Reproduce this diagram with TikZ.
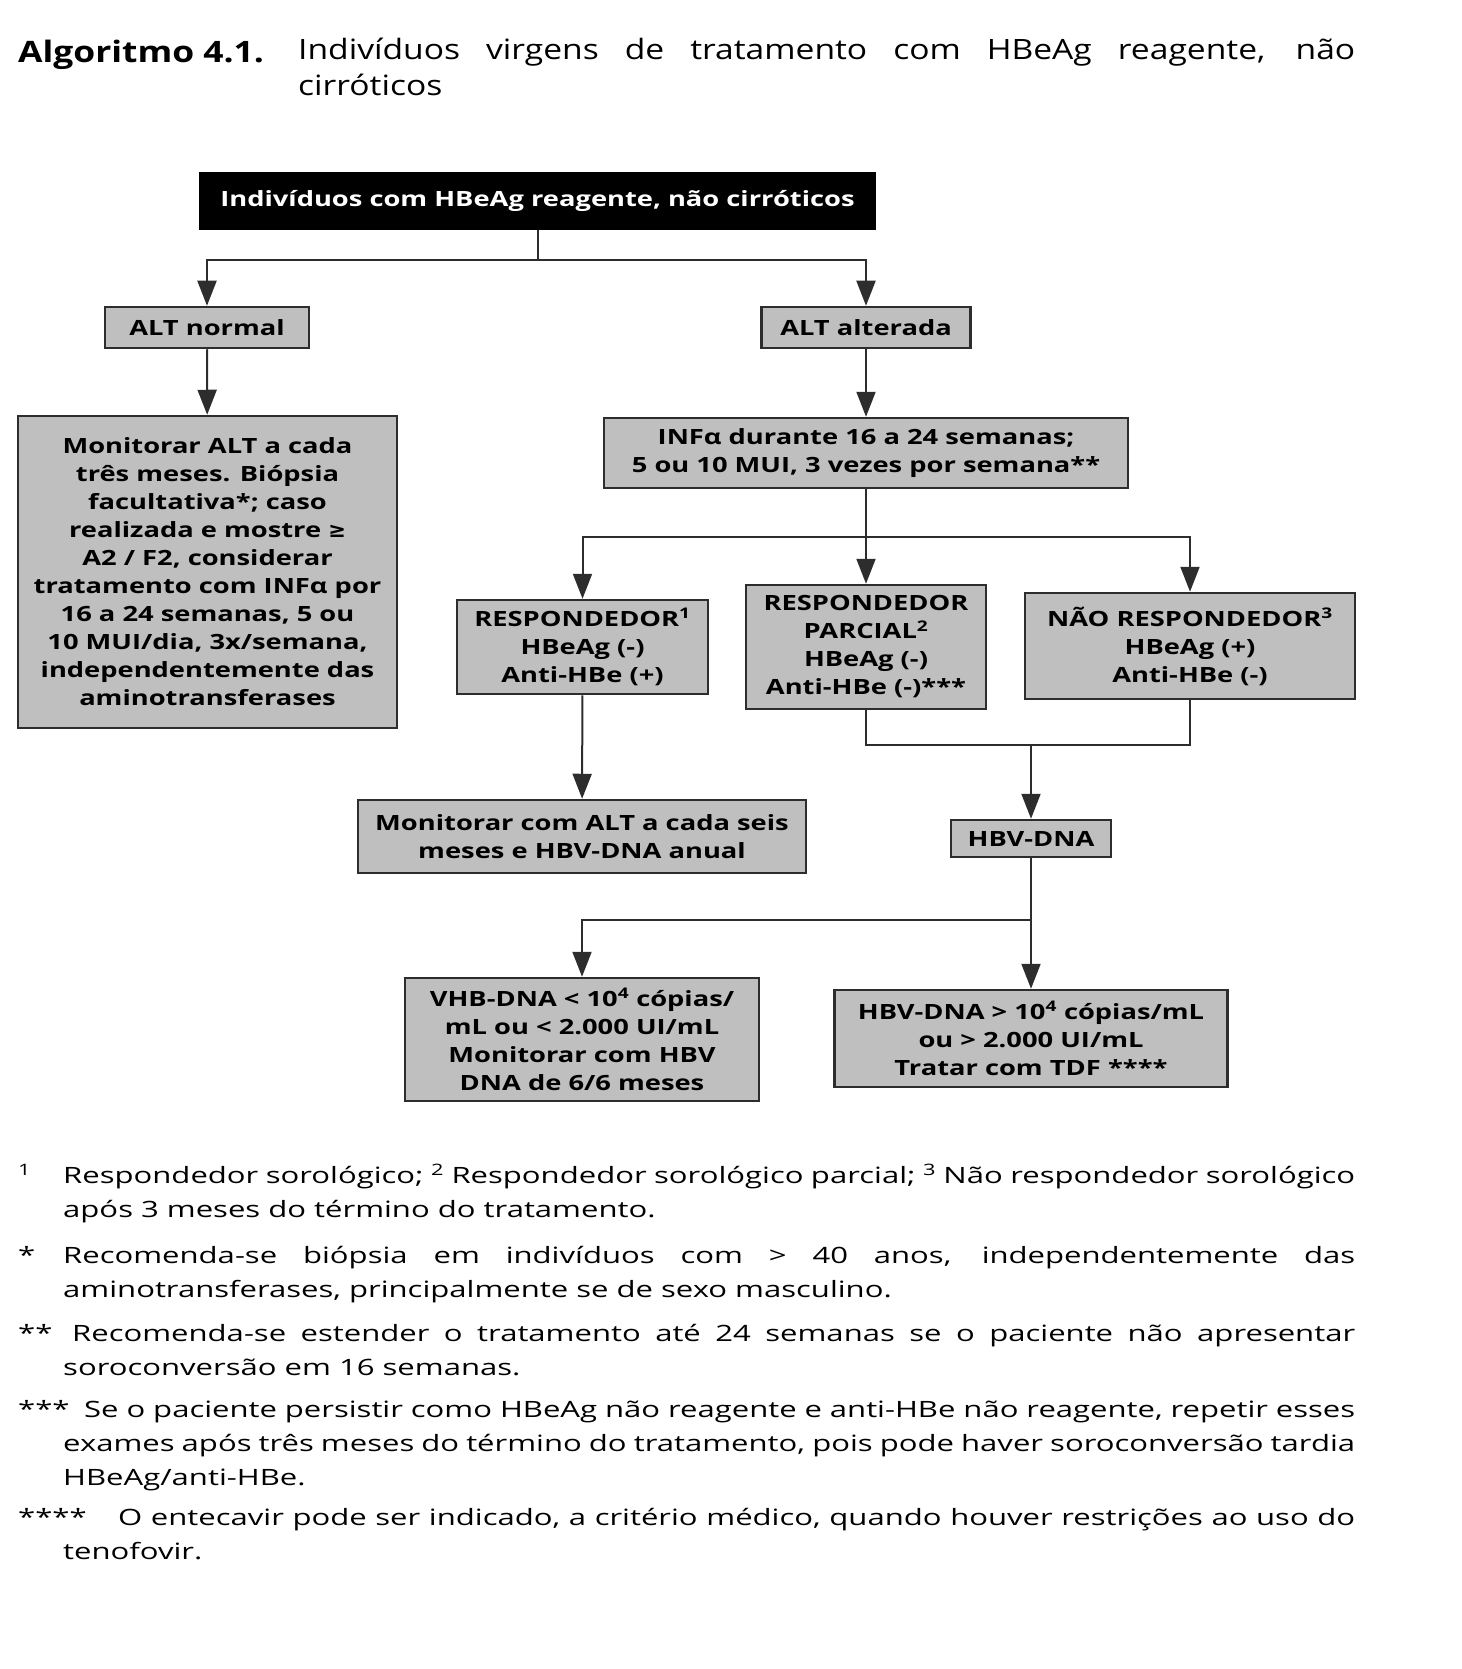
\documentclass[tikz,border=0pt]{standalone}
\usepackage{fontspec}
\setmainfont[FakeStretch=1.3]{Open Sans}
\newfontfamily\titlefont[FakeStretch=1.2]{Open Sans}
\newfontfamily\notefont[FakeStretch=1.38]{Open Sans}
\newfontfamily\symfont{DejaVu Sans}
\usetikzlibrary{arrows.meta,positioning}
\definecolor{boxgray}{RGB}{191,191,191}
\definecolor{linegray}{RGB}{45,45,45}
\tikzset{
    stepbox/.style={draw=linegray, fill=boxgray, line width=2.5pt, align=center,
        inner sep=0pt, font=\bfseries\fontsize{21}{28}\selectfont},
    headbox/.style={stepbox, fill=black, draw=black, text=white},
    link/.style={draw=linegray, line width=2pt},
    arr/.style={link, -{Triangle[width=19pt,length=25pt]}},
    notemark/.style={anchor=base west, inner sep=0pt, font=\notefont\fontsize{22.5}{34}\selectfont},
    note/.style={anchor=north west, text width=1292pt, align=justify,
        inner sep=0pt, font=\notefont\fontsize{22.5}{34}\selectfont}
}
\newcommand{\geqsym}{{\symfont\char"2265}}
\newcommand{\notestrut}{\rule{0pt}{24pt}}

\begin{document}
\begin{tikzpicture}[x=1pt, y=-1pt]
    \useasboundingbox (0,0) rectangle (1461,1669);
    % Title
    \node[anchor=base west, inner sep=0pt, font=\titlefont\bfseries\fontsize{29.5}{36}\selectfont]
        (ttl) at (18,63) {Algoritmo 4.1.};
    \node[anchor=north west, inner sep=0pt, text width=1057pt, align=justify,
        font=\titlefont\fontsize{28}{36}\selectfont] (sub) at (298,38)
        {Indivíduos virgens de tratamento com HBeAg reagente, não\linebreak cirróticos};
    % Boxes
    \node[headbox, minimum width=675pt, minimum height=56pt] (top) at (537.5,201)
        {Indivíduos com HBeAg reagente, não cirróticos};
    \node[stepbox, minimum width=204pt, minimum height=41pt] (altn) at (207,327.5) {ALT normal};
    \node[stepbox, minimum width=209pt, minimum height=41pt] (alta) at (866,327.5) {ALT alterada};
    \node[stepbox, minimum width=379pt, minimum height=312pt] (monalt) at (207.5,572)
        {Monitorar ALT a cada\\três meses. Biópsia\\facultativa*; caso\\realizada e mostre \geqsym\\
         A2 / F2, considerar\\tratamento com INFα por\\16 a 24 semanas, 5 ou\\
         10 MUI/dia, 3x/semana,\\independentemente das\\aminotransferases};
    \node[stepbox, minimum width=524pt, minimum height=70pt] (inf) at (866,453)
        {INFα durante 16 a 24 semanas;\\5 ou 10 MUI, 3 vezes por semana**};
    \node[stepbox, minimum width=251pt, minimum height=94pt] (resp) at (582.5,647)
        {RESPONDEDOR\textsuperscript{1}\\HBeAg (-)\\Anti-HBe (+)};
    \node[stepbox, minimum width=240pt, minimum height=124pt] (parc) at (866,647)
        {RESPONDEDOR\\PARCIAL\textsuperscript{2}\\HBeAg (-)\\Anti-HBe (-)***};
    \node[stepbox, minimum width=330pt, minimum height=106pt] (naor) at (1190,646)
        {NÃO RESPONDEDOR\textsuperscript{3}\\HBeAg (+)\\Anti-HBe (-)};
    \node[stepbox, minimum width=448pt, minimum height=73pt] (monsix) at (582,836.5)
        {Monitorar com ALT a cada seis\\meses e HBV-DNA anual};
    \node[stepbox, minimum width=160pt, minimum height=37pt] (hbv) at (1031,838.5) {HBV-DNA};
    \node[stepbox, minimum width=354pt, minimum height=123pt] (low) at (582,1039.5)
        {VHB-DNA < 10\textsuperscript{4} cópias/\\mL ou < 2.000 UI/mL\\Monitorar com HBV\\DNA de 6/6 meses};
    \node[stepbox, minimum width=393pt, minimum height=97pt] (high) at (1031,1038.5)
        {HBV-DNA > 10\textsuperscript{4} cópias/mL\\ou > 2.000 UI/mL\\Tratar com TDF ****};
    % Connectors
    \coordinate (j1) at (537.5,260);
    \coordinate (j2) at (866,537);
    \coordinate (j3) at (1031,745);
    \coordinate (j4) at (1031,920);
    \draw[link] (top) -- (j1);
    \draw[arr] (j1) -| (altn);
    \draw[arr] (j1) -| (alta);
    \draw[arr] (altn) -- (monalt);
    \draw[arr] (alta) -- (inf);
    \draw[link] (inf) -- (j2);
    \draw[arr] (j2) -| (resp);
    \draw[arr] (j2) -- (parc);
    \draw[arr] (j2) -| (naor);
    \draw[arr] (resp) -- (monsix);
    \draw[link] (parc.south) |- (j3) -| (naor.south);
    \draw[arr] (j3) -- (hbv);
    \draw[arr] (hbv) -- (high);
    \draw[arr] (j4) -| (low);
    % Notes
    \node[notemark] (m1) at (18,1183) {\textsuperscript{1}};
    \node[note] (n1) at (63,1159) {\notestrut Respondedor sorológico; \textsuperscript{2} Respondedor sorológico parcial; \textsuperscript{3} Não respondedor sorológico\linebreak
        após 3 meses do término do tratamento.};
    \node[notemark] (m2) at (18,1263) {*};
    \node[note] (n2) at (63,1239) {\notestrut Recomenda-se biópsia em indivíduos com > 40 anos, independentemente das\linebreak
        aminotransferases, principalmente se de sexo masculino.};
    \node[notemark] (m3) at (18,1341) {**};
    \node[note] (n3) at (63,1317) {\notestrut\hspace*{9pt}Recomenda-se estender o tratamento até 24 semanas se o paciente não apresentar\linebreak
        soroconversão em 16 semanas.};
    \node[notemark] (m4) at (18,1417) {***};
    \node[note] (n4) at (63,1393) {\notestrut\hspace*{21pt}Se o paciente persistir como HBeAg não reagente e anti-HBe não reagente, repetir esses\linebreak
        exames após três meses do término do tratamento, pois pode haver soroconversão tardia\linebreak
        HBeAg/anti-HBe.};
    \node[notemark] (m5) at (18,1525) {****};
    \node[note] (n5) at (63,1501) {\notestrut\hspace*{55pt}O entecavir pode ser indicado, a critério médico, quando houver restrições ao uso do\linebreak
        tenofovir.};
\end{tikzpicture}
\end{document}
